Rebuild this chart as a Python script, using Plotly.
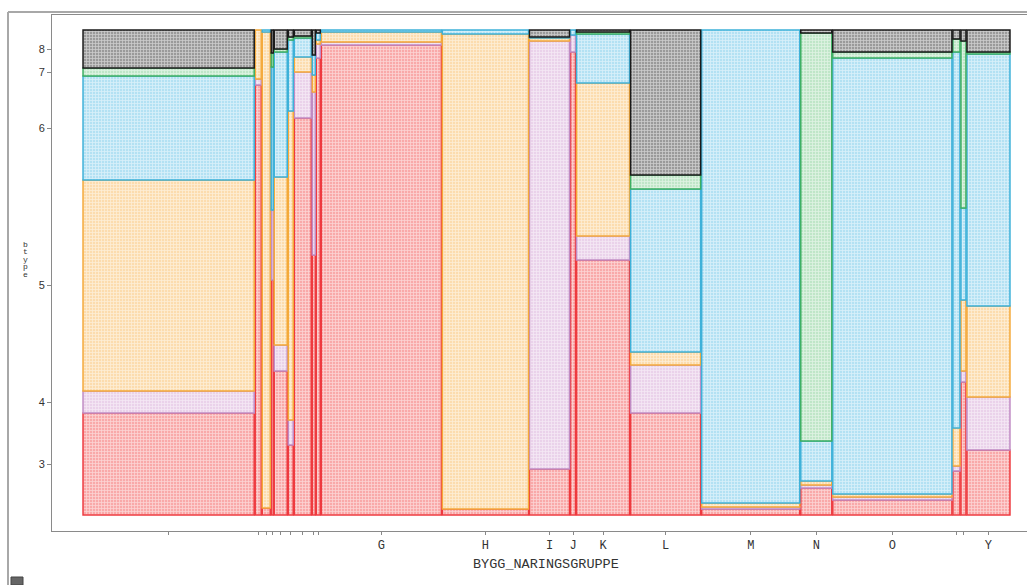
import plotly.graph_objects as go
import numpy as np

# ---- data ----
categories = ["", "A", "B", "C", "D", "E", "F", "F1", "F2", "G", "H", "I", "J",
              "K", "L", "M", "N", "O", "P", "Q", "Y"]
tick_labels = ["", "", "", "", "", "", "", "", "", "G", "H", "I", "J",
               "K", "L", "M", "N", "O", "", "", "Y"]
col_counts = [171, 6, 8, 2, 13, 5, 17, 3, 4, 120, 86, 40, 5, 53, 70, 98, 31, 119, 7, 5, 43]

btypes = ["3", "4", "5", "6", "7", "8"]
b3 = [102, 430, 7, 235, 144, 70, 397, 260, 457, 470, 6, 46, 463, 255, 102, 6, 27, 15, 44, 133, 65]
b4 = [22, 6, 0, 70, 26, 25, 46, 163, 14, 3, 0, 428, 17, 24, 48, 2, 3, 3, 5, 11, 53]
b5 = [211, 49, 476, 0, 168, 309, 15, 17, 4, 10, 475, 3, 0, 153, 13, 4, 4, 3, 38, 71, 91]
b6 = [104, 0, 2, 143, 125, 71, 19, 20, 7, 2, 4, 1, 5, 49, 163, 473, 40, 436, 376, 92, 252]
b7 = [8, 0, 0, 14, 3, 3, 2, 0, 0, 0, 0, 0, 0, 2, 14, 0, 408, 6, 13, 167, 2]
b8 = [38, 0, 0, 23, 19, 7, 6, 25, 3, 0, 0, 7, 0, 2, 145, 0, 3, 22, 9, 11, 22]

series = [b3, b4, b5, b6, b7, b8]
border_colors = ["#ee3a3f", "#c08cc4", "#f4a93a", "#3eb1d9", "#3daf62", "#1a1a1a"]
fill_colors = ["#f9a9a9", "#ead2ea", "#fcdcae", "#b3e1f3", "#bfe6c8", "#9a9a9a"]

# ---- layout geometry (mosaic) ----
gap = 1.0
widths = np.array(col_counts, dtype=float)
lefts = np.concatenate([[0], np.cumsum(widths + gap)[:-1]])
centers = lefts + widths / 2
total = lefts[-1] + widths[-1]

mat = np.array(series, dtype=float)
props = mat / mat.sum(axis=0)
bases = np.vstack([np.zeros(len(col_counts)), np.cumsum(props, axis=0)[:-1]])

fig = go.Figure()
for i, bt in enumerate(btypes):
    mask = props[i] > 0
    fig.add_trace(go.Bar(
        x=centers[mask], y=props[i][mask], base=bases[i][mask], width=widths[mask],
        name=bt, showlegend=False,
        marker=dict(color=fill_colors[i],
                    line=dict(color=border_colors[i], width=1.5),
                    pattern=dict(shape="+", fgcolor="white", size=3, solidity=0.45,
                                 fillmode="overlay")),
    ))

# y ticks at mid-points of first column's segments
ymids = bases[:, 0] + props[:, 0] / 2

W, H = 1027, 585
L, R, T, B = 52, 0, 15, 54
pw, ph = W - L - R, H - T - B

def px(X):
    return (X - L) / pw

def py(Y):
    return (H - B - Y) / ph

fig.update_layout(
    width=W, height=H, margin=dict(l=L, r=R, t=T, b=B),
    paper_bgcolor="white", plot_bgcolor="white", barmode="overlay",
    xaxis=dict(range=[-31, total + 17], tickvals=centers, ticktext=tick_labels,
               showgrid=False, zeroline=False, showline=True, linecolor="#8a8a8a",
               linewidth=1, mirror=True, ticks="outside", ticklen=3, tickcolor="#888",
               tickfont=dict(family="Liberation Mono", size=12, color="#333")),
    yaxis=dict(range=[-16 / 485, 1 + 15 / 485], tickvals=ymids, ticktext=btypes,
               showgrid=False, zeroline=False, showline=True, linecolor="#8a8a8a",
               linewidth=1, ticks="outside", ticklen=4, tickcolor="#888",
               tickfont=dict(family="Liberation Sans", size=11, color="#333")),
)

# axis titles
fig.add_annotation(text="BYGG_NARINGSGRUPPE", xref="paper", yref="paper",
                   x=px(546), y=py(564), showarrow=False, xanchor="center", yanchor="middle",
                   font=dict(family="Liberation Mono", size=13.5, color="#333"))
for k, ch in enumerate("btype"):
    fig.add_annotation(text=ch, xref="paper", yref="paper", x=px(25), y=py(244 + 7.5 * k),
                       showarrow=False, xanchor="center", yanchor="middle",
                       font=dict(family="Liberation Mono", size=8, color="#333"))

# outer frame
fig.add_shape(type="line", xref="paper", yref="paper", x0=px(8), x1=px(8), y0=py(585), y1=py(12),
              line=dict(color="#a8a8a8", width=2))
fig.add_shape(type="line", xref="paper", yref="paper", x0=px(8), x1=1.0, y0=py(12), y1=py(12),
              line=dict(color="#a8a8a8", width=2))
# small corner button
fig.add_shape(type="rect", xref="paper", yref="paper", x0=px(11), x1=px(23), y0=py(585), y1=py(577),
              fillcolor="#666", line=dict(color="#444", width=1))

fig.write_html("out.html")
